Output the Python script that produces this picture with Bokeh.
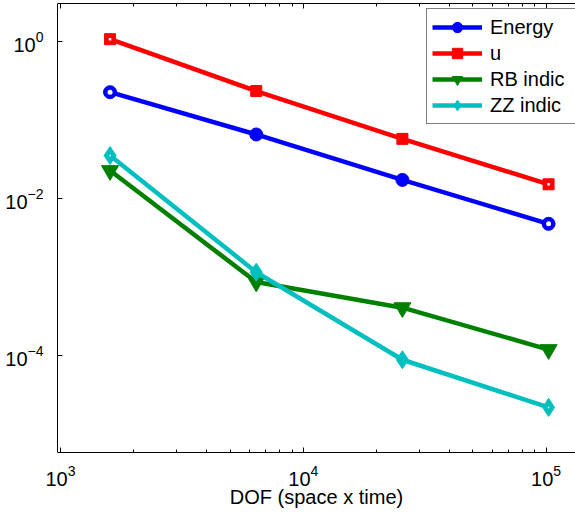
from bokeh.plotting import figure
from bokeh.models import Range1d, LogAxis, FixedTicker, Legend, LegendItem
from bokeh.embed import file_html
from bokeh.resources import INLINE

# ---- data ----
dof = [1600, 6400, 25600, 102400]
energy = [0.228, 0.066, 0.0174, 0.0048]
u_err = [1.08, 0.236, 0.058, 0.0153]
rb_indic = [0.0229, 8.7e-4, 4.1e-4, 1.2e-4]
zz_indic = [0.0356, 1.16e-3, 8.9e-5, 2.2e-5]

x_major = [1e3, 1e4, 1e5]
x_minor = [m * d for d in (1e3, 1e4, 1e5) for m in range(2, 10)]
y_major = [1e0, 1e-2, 1e-4]

FONT = "Liberation Sans"

p = figure(width=575, height=512, x_axis_type="log", y_axis_type="log",
           x_range=Range1d(972, 132200), y_range=Range1d(5.86e-6, 3.076),
           output_backend="svg", toolbar_location=None,
           min_border_left=57, min_border_right=0, min_border_top=3,
           min_border_bottom=60, background_fill_color="white",
           border_fill_color="white")
p.outline_line_color = None
p.xgrid.visible = False
p.ygrid.visible = False

xt = FixedTicker(ticks=x_major, minor_ticks=x_minor)
yt = FixedTicker(ticks=y_major, minor_ticks=[])


def style_axis(ax):
    ax.axis_line_color = "black"
    ax.axis_line_width = 1
    ax.major_tick_in = 5
    ax.major_tick_out = 0
    ax.minor_tick_in = 3
    ax.minor_tick_out = 0
    ax.major_tick_line_color = "black"
    ax.minor_tick_line_color = "black"
    ax.major_label_text_font = FONT
    ax.major_label_text_font_size = "20px"
    ax.major_label_text_color = "black"


xa = p.xaxis[0]
xa.ticker = xt
style_axis(xa)
xa.major_label_standoff = 12
xa.axis_label = "DOF (space x time)"
xa.axis_label_text_font = FONT
xa.axis_label_text_font_size = "20px"
xa.axis_label_text_font_style = "normal"
xa.axis_label_text_color = "black"
xa.axis_label_standoff = -3

ya = p.yaxis[0]
ya.ticker = yt
style_axis(ya)
ya.major_label_standoff = 14

top = LogAxis(ticker=xt)
style_axis(top)
top.major_label_text_font_size = "1px"
top.major_label_text_alpha = 0
top.major_label_standoff = 0
p.add_layout(top, "above")

series = [
    ("Energy", energy, "#0000FF", "circle", 13, 5),
    ("u", u_err, "#FF0000", "square", 11, 2.5),
    ("RB indic", rb_indic, "#008000", "inverted_triangle", 17, 0),
    ("ZZ indic", zz_indic, "#00BFBF", "diamond", 18, 2.5),
]

items = []
for name, vals, color, marker, size, hole in series:
    rl = p.line(dof, vals, line_color=color, line_width=4.5)
    rm = p.scatter(dof, vals, marker=marker, size=size, fill_color=color,
                   line_color=color, line_width=1)
    if hole:
        p.scatter([dof[0], dof[-1]], [vals[0], vals[-1]], marker=marker,
                  size=hole, fill_color="white", line_color=None)
    items.append(LegendItem(label=name, renderers=[rl, rm]))

legend = Legend(items=items, location=(369, 328))
legend.label_text_font = FONT
legend.label_text_font_size = "20px"
legend.label_text_color = "black"
legend.border_line_color = "black"
legend.border_line_width = 1
legend.background_fill_color = "white"
legend.background_fill_alpha = 1.0
legend.padding = 5
legend.spacing = 0
legend.margin = 0
legend.glyph_width = 50
legend.glyph_height = 26
legend.label_height = 26
legend.label_width = 80
legend.label_standoff = 8
p.add_layout(legend)

open("out.html", "w").write(file_html(p, INLINE))
